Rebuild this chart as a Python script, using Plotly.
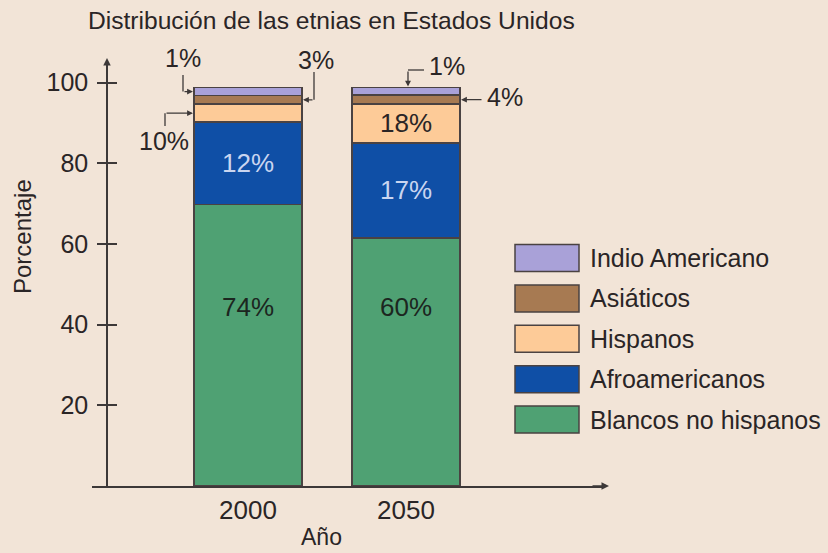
import plotly.graph_objects as go

# ---------------- data ----------------
years = ["2000", "2050"]
groups = ["Blancos no hispanos", "Afroamericanos", "Hispanos", "Asiáticos", "Indio Americano"]
# segment heights as drawn in the picture (percentage axis)
blancos = [69.8, 61.5]
afro = [20.4, 23.6]
hispanos = [4.5, 9.6]
asiaticos = [2.1, 2.2]
indios = [2.0, 1.9]
# printed labels
lab_blancos = ["74%", "60%"]
lab_afro = ["12%", "17%"]
lab_hisp = ["10%", "18%"]
lab_asia = ["3%", "4%"]
lab_indio = ["1%", "1%"]
y_ticks = [20, 40, 60, 80, 100]

colors = ["#4FA173", "#0F4FA6", "#FDCB98", "#A77A52", "#A9A1D8"]
BG = "#F2E4D7"
INK = "#2a2526"
LINE = "#3d3838"
FONT = "Liberation Sans"

W, H = 828, 553
XD = (92, 605)          # x-axis pixel extent
XR = (-0.9873, 2.2595)  # x-axis range (category index units)
YD = (486, 62)          # y-axis pixel extent (bottom, top)
YR = (0, 105.13)
BW = 0.684              # bar width


def p2x(px):
    return px / W


def p2y(py):
    return 1 - py / H


def xpx(v):
    return XD[0] + (v - XR[0]) / (XR[1] - XR[0]) * (XD[1] - XD[0])


def ypx(v):
    return YD[0] + (v - YR[0]) / (YR[1] - YR[0]) * (YD[1] - YD[0])


series = [blancos, afro, hispanos, asiaticos, indios]

fig = go.Figure()
for name, vals, col in zip(groups, series, colors):
    fig.add_trace(go.Bar(
        x=years, y=vals, name=name, width=BW,
        marker=dict(color=col, line=dict(color="#4a4242", width=1.5)),
        showlegend=False, hoverinfo="name+y",
    ))
# invisible trace so the overlay axis (crossing ticks) is drawn
fig.add_trace(go.Scatter(x=years, y=[None, None], yaxis="y2", showlegend=False,
                         hoverinfo="skip", mode="markers"))

ann = []
shapes = []

# inside labels
for i in range(2):
    ann.append(dict(x=i, y=44.4, xref="x", yref="y", text=lab_blancos[i], showarrow=False,
                    xanchor="center", yanchor="middle",
                    font=dict(size=26, color="#1c261f", family=FONT)))
    ann.append(dict(x=i, y=blancos[i] + afro[i] / 2, xref="x", yref="y", text=lab_afro[i],
                    xanchor="center", yanchor="middle",
                    showarrow=False, font=dict(size=26, color="#C9D5F0", family=FONT)))
ann.append(dict(x=1, y=blancos[1] + afro[1] + hispanos[1] / 2, xref="x", yref="y",
                xanchor="center", yanchor="middle",
                text=lab_hisp[1], showarrow=False, font=dict(size=26, color=INK, family=FONT)))


def arrow(tipx, tipy, tailx, taily):
    ann.append(dict(x=p2x(tipx), y=p2y(tipy), xref="paper", yref="paper", text="",
                    showarrow=True, ax=tailx - tipx, ay=taily - tipy, axref="pixel", ayref="pixel",
                    arrowhead=2, arrowsize=0.9, arrowwidth=1.3, arrowcolor=LINE, standoff=0))


def seg(x0, y0, x1, y1):
    shapes.append(dict(type="line", xref="paper", yref="paper", x0=p2x(x0), y0=p2y(y0),
                       x1=p2x(x1), y1=p2y(y1), line=dict(color=LINE, width=1.3)))


def label(px, py, txt, size=25, angle=0, xanchor="center"):
    ann.append(dict(x=p2x(px), y=p2y(py), xref="paper", yref="paper", text=txt,
                    xanchor=xanchor, yanchor="middle", textangle=angle,
                    showarrow=False, font=dict(size=size, color=INK, family=FONT)))


top0 = blancos[0] + afro[0] + hispanos[0]
top1 = blancos[1] + afro[1] + hispanos[1]
left0 = xpx(0 - BW / 2) - 1
right0 = xpx(0 + BW / 2) + 1
right1 = xpx(1 + BW / 2) + 1
cx1 = xpx(1)

# 2000 - Indio Americano (1%)
ty = ypx(top0 + asiaticos[0] + indios[0] / 2)
label(183, 58, lab_indio[0])
seg(183, 75, 183, ty)
arrow(left0, ty, 183, ty)
# 2000 - Asiáticos (3%)
ty = ypx(top0 + asiaticos[0] / 2)
label(316, 60, lab_asia[0])
seg(314, 72, 314, ty)
arrow(right0, ty, 314, ty)
# 2000 - Hispanos (10%)
ty = ypx(blancos[0] + afro[0] + hispanos[0] / 2)
label(164, 141, lab_hisp[0])
seg(165, 126, 165, ty)
arrow(left0, ty, 165, ty)
# 2050 - Indio Americano (1%)
ty = ypx(top1 + asiaticos[1] + indios[1]) - 1
label(447, 66, lab_indio[1])
seg(424, 70, cx1 + 2, 70)
arrow(cx1 + 2, ty, cx1 + 2, 70)
# 2050 - Asiáticos (4%)
ty = ypx(top1 + asiaticos[1] / 2)
label(505, 97, lab_asia[1])
arrow(right1, ty, 483, ty)

# axis arrows
ann.append(dict(x=p2x(107), y=p2y(58), xref="paper", yref="paper", text="", showarrow=True,
                ax=0, ay=18, arrowhead=2, arrowsize=1, arrowwidth=1.5, arrowcolor=LINE))
ann.append(dict(x=p2x(609), y=p2y(486), xref="paper", yref="paper", text="", showarrow=True,
                ax=-18, ay=0, arrowhead=2, arrowsize=1, arrowwidth=1.5, arrowcolor=LINE))

# title and axis titles
label(331, 21, "Distribución de las etnias en Estados Unidos", size=24.6)
label(321, 537, "Año", size=23)
label(22, 237, "Porcentaje", size=24, angle=-90)

# legend (top to bottom)
for k, idx in enumerate([4, 3, 2, 1, 0]):
    cy = 258 + 40.4 * k
    shapes.append(dict(type="rect", xref="paper", yref="paper", x0=p2x(515), x1=p2x(579),
                       y0=p2y(cy + 13.5), y1=p2y(cy - 13.5), fillcolor=colors[idx],
                       line=dict(color="#4a4242", width=1.5)))
    label(588, cy, groups[idx], size=25, xanchor="left")

fig.update_layout(
    width=W, height=H, margin=dict(l=0, r=0, t=0, b=0),
    paper_bgcolor=BG, plot_bgcolor=BG, barmode="stack",
    font=dict(family=FONT, color=INK),
    xaxis=dict(type="category", range=list(XR), domain=[p2x(XD[0]), p2x(XD[1])], anchor="y",
               showline=True, linecolor=LINE, linewidth=1.5, ticks="", showgrid=False,
               zeroline=False, tickfont=dict(size=26, color=INK), ticklabelstandoff=0),
    yaxis=dict(range=list(YR), domain=[p2y(YD[0]), p2y(YD[1])], anchor="free",
               position=p2x(107), showline=True, linecolor=LINE, linewidth=1.5,
               ticks="outside", ticklen=9, tickwidth=1.5, tickcolor=LINE, tickvals=y_ticks,
               showgrid=False, zeroline=False, tickfont=dict(size=25, color=INK),
               ticklabelstandoff=4),
    yaxis2=dict(range=list(YR), overlaying="y", anchor="free", position=p2x(107), side="left",
                ticks="inside", ticklen=9, tickwidth=1.5, tickcolor=LINE, tickvals=y_ticks,
                showticklabels=False, showline=False, showgrid=False, zeroline=False),
    annotations=ann, shapes=shapes,
)

fig.write_html("out.html", post_script="document.body.style.margin='0';",
               config={"displayModeBar": False})
